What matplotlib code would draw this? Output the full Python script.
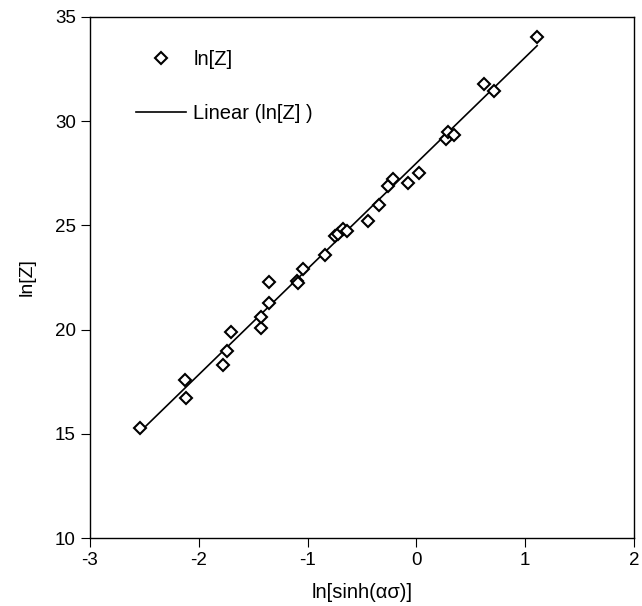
import numpy as np
import matplotlib
matplotlib.use("Agg")
import matplotlib.pyplot as plt

# ln[sinh(alpha*sigma)] vs ln[Z]
ln_sinh = [-2.54, -2.13, -2.12, -1.775, -1.74, -1.70, -1.43, -1.43, -1.35, -1.35,
           -1.10, -1.09, -1.04, -0.84, -0.75, -0.72, -0.67, -0.64, -0.44, -0.34,
           -0.26, -0.21, -0.08, 0.02, 0.27, 0.29, 0.35, 0.62, 0.71, 1.11]
ln_z = [15.3, 17.6, 16.7, 18.3, 19.0, 19.9, 20.1, 20.6, 21.3, 22.3,
        22.35, 22.25, 22.9, 23.6, 24.5, 24.6, 24.85, 24.75, 25.2, 26.0,
        26.9, 27.25, 27.05, 27.5, 29.15, 29.5, 29.35, 31.8, 31.45, 34.05]

plt.rcParams['font.family'] = ['Liberation Sans', 'DejaVu Sans']
plt.rcParams['axes.unicode_minus'] = False

x = np.array(ln_sinh)
y = np.array(ln_z)

# linear trend line over the data range
slope, intercept = np.polyfit(x, y, 1)
xf = np.array([x.min(), x.max()])
yf = slope * xf + intercept

fig = plt.figure(figsize=(6.42, 6.06), dpi=100)
ax = fig.add_axes([0.140, 0.112, 0.8475, 0.860])

ax.plot(x, y, linestyle='none', marker='D', markersize=6.2,
        markerfacecolor='white', markeredgecolor='black', markeredgewidth=1.5,
        label='ln[Z]', zorder=3)
ax.plot(xf, yf, color='black', linewidth=1.2, label='Linear (ln[Z] )', zorder=2)

ax.set_xlim(-3, 2)
ax.set_ylim(10, 35)
ax.set_xticks(range(-3, 3))
ax.set_yticks(range(10, 36, 5))
ax.tick_params(direction='out', length=6.5, width=0.8, labelsize=13.5, colors='black')
for s in ax.spines.values():
    s.set_linewidth(1.0)

ax.set_xlabel('ln[sinh(\u03b1\u03c3)]', fontsize=14.5, labelpad=10)
ax.set_ylabel('ln[Z]', fontsize=14, labelpad=14)

ax.legend(loc='upper left', bbox_to_anchor=(136 / 642, 1 - 50 / 606),
          bbox_transform=fig.transFigure, frameon=False, borderpad=0,
          borderaxespad=0, fontsize=14.5, handlelength=2.5,
          handletextpad=0.35, labelspacing=1.75)

fig.savefig('out.png', dpi=100)
